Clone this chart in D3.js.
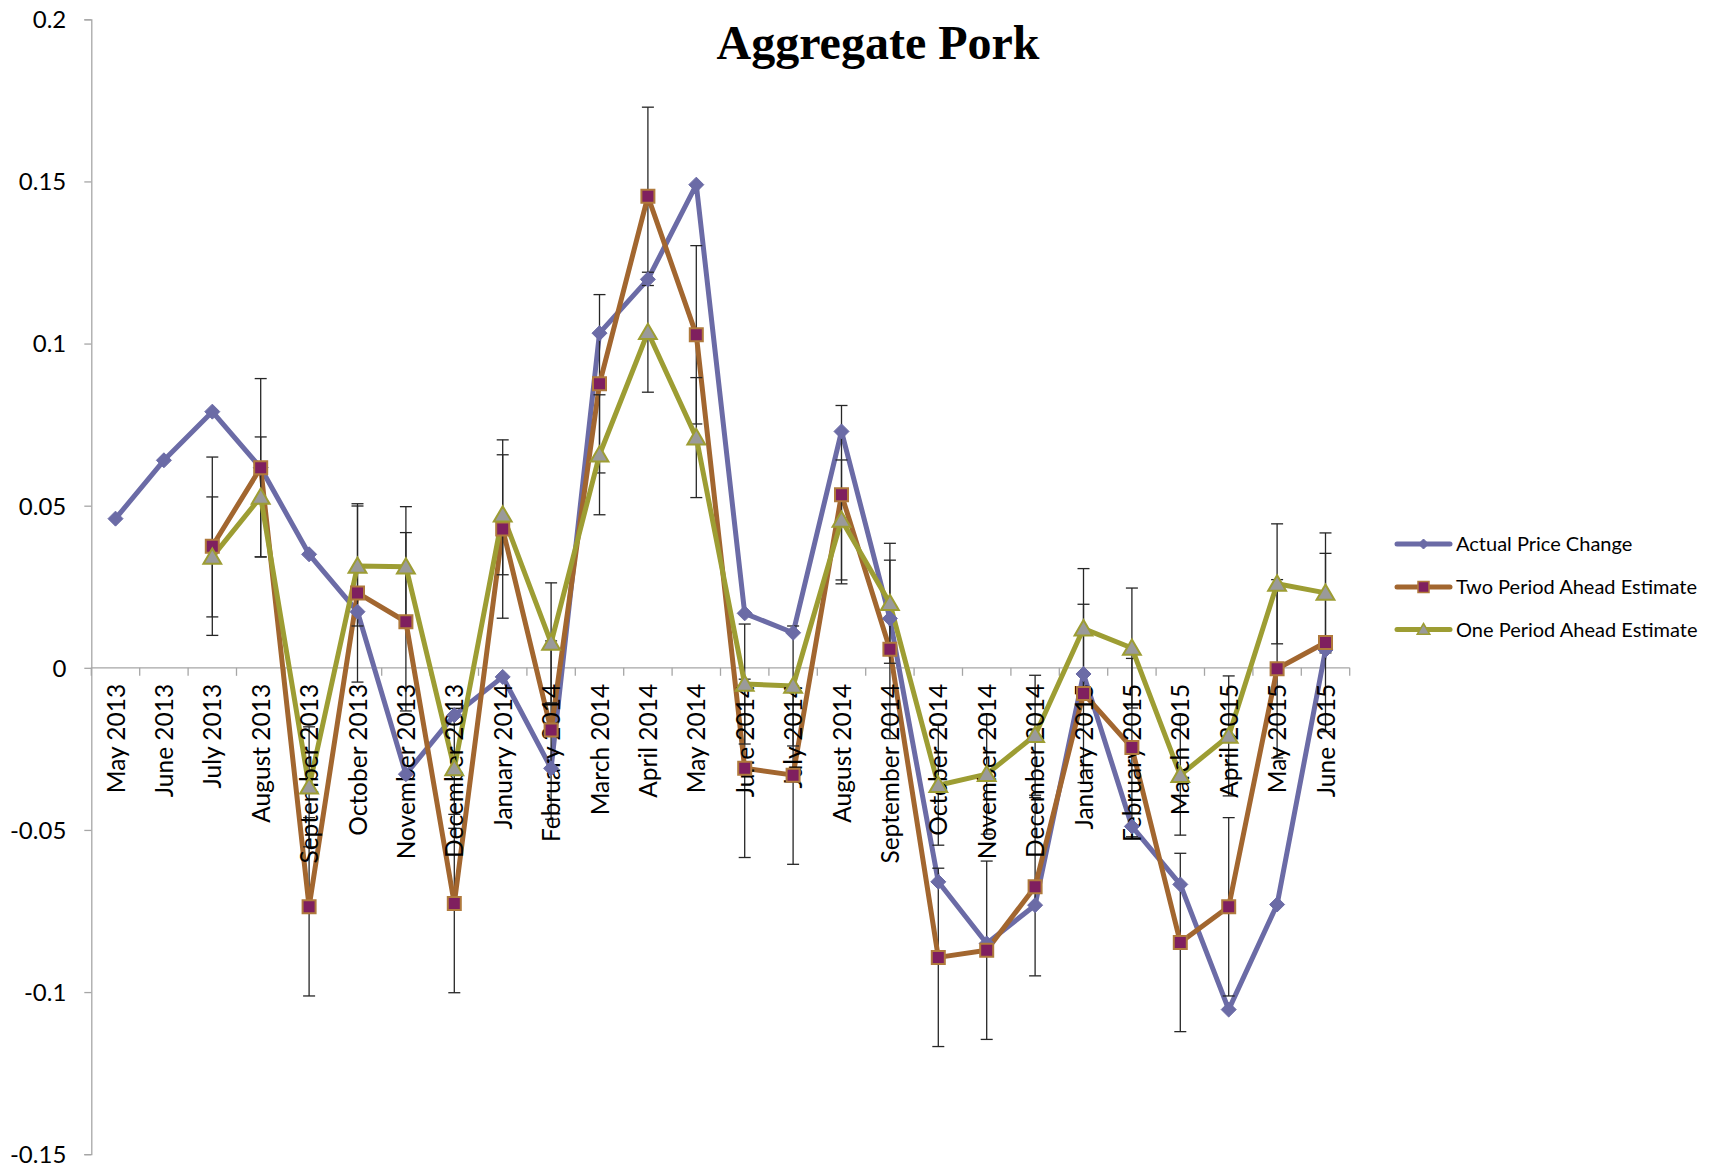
<!DOCTYPE html>
<html>
<head>
<meta charset="utf-8">
<script src="https://cdn.jsdelivr.net/npm/d3@7"></script>
<style>
  html, body { margin: 0; padding: 0; background: #fff; }
  svg { display: block; }
</style>
</head>
<body>
<script>
const categories = ["May 2013","June 2013","July 2013","August 2013","September 2013","October 2013","November 2013","December 2013","January 2014","February 2014","March 2014","April 2014","May 2014","June 2014","July 2014","August 2014","September 2014","October 2014","November 2014","December 2014","January 2015","February 2015","March 2015","April 2015","May 2015","June 2015"];
const actualPriceChange = [0.046,0.064,0.079,0.0617,0.035,0.0173,-0.0328,-0.0146,-0.0028,-0.031,0.1032,0.1198,0.149,0.0168,0.0108,0.0729,0.0152,-0.066,-0.085,-0.0732,-0.0019,-0.0489,-0.0668,-0.1054,-0.073,0.0055];
const twoPeriodAhead = [null,null,0.0375,0.0617,-0.0737,0.0231,0.0142,-0.0727,0.0428,-0.0192,0.0876,0.1454,0.1027,-0.031,-0.0331,0.0534,0.0057,-0.0893,-0.0871,-0.0675,-0.0079,-0.0246,-0.0847,-0.0737,-0.0003,0.0078];
const onePeriodAhead = [null,null,0.0342,0.0527,-0.0367,0.0314,0.0312,-0.031,0.0472,0.0077,0.0657,0.1035,0.071,-0.005,-0.0056,0.0456,0.0199,-0.0362,-0.0328,-0.0208,0.0121,0.0061,-0.0331,-0.021,0.0259,0.0231];
const twoPeriodError = 0.0275;
const onePeriodError = 0.0185;
const yTicks = [0.2,0.15,0.1,0.05,0,-0.05,-0.1,-0.15];
const yTickLabels = ["0.2","0.15","0.1","0.05","0","-0.05","-0.1","-0.15"];
const seriesNames = ["Actual Price Change","Two Period Ahead Estimate","One Period Ahead Estimate"];

const W = 1725, H = 1169;
const svg = d3.select("body").append("svg").attr("width", W).attr("height", H);

const x = d3.scaleBand().domain(categories).range([91.3, 1349.7]);
const y = d3.scaleLinear().domain([-0.15, 0.2]).range([1154.2, 19.3]);
const cx = c => x(c) + x.bandwidth() / 2;

const labelFont = "Lato, 'Open Sans', sans-serif";

// Title
svg.append("text").attr("x", 878).attr("y", 59)
  .attr("text-anchor", "middle")
  .style("font-family", "'Liberation Serif', 'Times New Roman', serif")
  .style("font-weight", "bold").style("font-size", "48px")
  .text("Aggregate Pork");

// Y axis
const yAxis = d3.axisLeft(y).tickValues(yTicks).tickSize(7).tickFormat((d, i) => yTickLabels[i]);
const gy = svg.append("g").attr("transform", "translate(91.3,0)").call(yAxis);
gy.select(".domain").attr("stroke", "#a6a6a6").attr("stroke-width", 1.3);
gy.selectAll(".tick line").attr("stroke", "#a6a6a6").attr("stroke-width", 1.3);
gy.selectAll(".tick text").attr("x", -25).attr("dy", "0.35em")
  .style("font-family", labelFont).style("font-size", "24px").attr("fill", "#000");

// X axis line + ticks at zero (ticks between categories)
const gx = svg.append("g").attr("transform", `translate(0,${y(0)})`);
gx.append("line").attr("x1", x.range()[0]).attr("x2", x.range()[1])
  .attr("stroke", "#a6a6a6").attr("stroke-width", 1.3);
const boundaries = categories.map(c => x(c)).concat([x.range()[1]]);
gx.selectAll("line.tk").data(boundaries).join("line").attr("class", "tk")
  .attr("x1", d => d).attr("x2", d => d).attr("y1", 0).attr("y2", 8)
  .attr("stroke", "#a6a6a6").attr("stroke-width", 1.3);

// Series definitions
const series = [
  { name: seriesNames[0], values: actualPriceChange, line: "#6b6ba6", fill: "#6b6ba6", stroke: "#6b6ba6", marker: "diamond", err: null },
  { name: seriesNames[1], values: twoPeriodAhead, line: "#a2662f", fill: "#7f1f5f", stroke: "#b07a3c", marker: "square", err: twoPeriodError },
  { name: seriesNames[2], values: onePeriodAhead, line: "#9d9d33", fill: "#9a9a9a", stroke: "#9d9d33", marker: "triangle", err: onePeriodError }
];

function markerPath(type, s) {
  if (type === "diamond") return `M0,${-s}L${s},0L0,${s}L${-s},0Z`;
  if (type === "square") return `M${-s},${-s}H${s}V${s}H${-s}Z`;
  return `M0,${-s * 1.0}L${s * 1.05},${s * 0.8}L${-s * 1.05},${s * 0.8}Z`;
}

const linesLayer = svg.append("g");
const labelLayer = svg.append("g");
const markerLayer = svg.append("g");

series.forEach(sr => {
  const pts = sr.values.map((v, i) => ({ c: categories[i], v })).filter(p => p.v !== null);
  const g = linesLayer.append("g");
  if (sr.err !== null) {
    pts.forEach(p => {
      const px = cx(p.c), y1 = y(p.v + sr.err), y2 = y(p.v - sr.err);
      g.append("line").attr("x1", px).attr("x2", px).attr("y1", y1).attr("y2", y2)
        .attr("stroke", "#262626").attr("stroke-width", 1.3);
      [y1, y2].forEach(yy => g.append("line").attr("x1", px - 6).attr("x2", px + 6)
        .attr("y1", yy).attr("y2", yy).attr("stroke", "#262626").attr("stroke-width", 1.3));
    });
  }
  const line = d3.line().x(p => cx(p.c)).y(p => y(p.v));
  g.append("path").datum(pts).attr("d", line).attr("fill", "none")
    .attr("stroke", sr.line).attr("stroke-width", 5).attr("stroke-linejoin", "round");
  const size = sr.marker === "diamond" ? 7.5 : (sr.marker === "square" ? 6.5 : 8.5);
  markerLayer.append("g").selectAll("path").data(pts).join("path")
    .attr("transform", p => `translate(${cx(p.c)},${y(p.v)})`)
    .attr("d", markerPath(sr.marker, size))
    .attr("fill", sr.fill).attr("stroke", sr.stroke).attr("stroke-width", sr.marker === "diamond" ? 1 : 2);
});

// Category labels
labelLayer.selectAll("text").data(categories).join("text")
  .attr("transform", d => `translate(${cx(d) + 9},${y(0) + 16}) rotate(-90)`)
  .attr("text-anchor", "end")
  .style("font-family", labelFont).style("font-size", "24.5px").attr("fill", "#000")
  .text(d => d);

// Legend
const legend = svg.append("g");
const legY = [544, 587, 629.5];
series.forEach((sr, i) => {
  const g = legend.append("g").attr("transform", `translate(0,${legY[i]})`);
  g.append("line").attr("x1", 1397).attr("x2", 1450).attr("stroke", sr.line).attr("stroke-width", 5).attr("stroke-linecap", "round");
  const s = sr.marker === "diamond" ? 5 : (sr.marker === "square" ? 5.5 : 6);
  g.append("path").attr("transform", "translate(1423.5,0)").attr("d", markerPath(sr.marker, s))
    .attr("fill", sr.fill).attr("stroke", sr.stroke).attr("stroke-width", sr.marker === "diamond" ? 1 : 1.5);
  g.append("text").attr("x", 1456).attr("dy", "0.35em")
    .style("font-family", labelFont).style("font-size", "20px").attr("fill", "#000")
    .text(sr.name);
});
</script>
</body>
</html>
